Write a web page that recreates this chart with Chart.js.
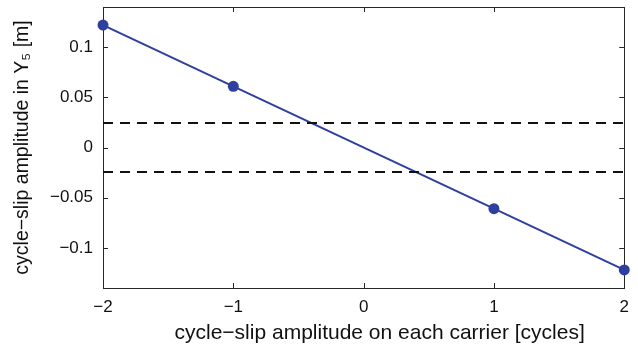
<!DOCTYPE html>
<html>
<head>
<meta charset="utf-8">
<script src="https://cdn.jsdelivr.net/npm/chart.js@4.4.1/dist/chart.umd.min.js"></script>
<style>
  html,body{margin:0;padding:0;background:#fff;}
  #wrap{width:638px;height:349px;}
</style>
</head>
<body>
<div id="wrap"><canvas id="c" width="638" height="349"></canvas></div>
<script>
// data
const cycles    = [-2, -1, 1, 2];
const amplitude = [0.122, 0.061, -0.061, -0.122];
const threshold = 0.0245;
const xTicks = [-2, -1, 0, 1, 2];
const yTicks = [-0.1, -0.05, 0, 0.05, 0.1];
const xLabel = 'cycle\u2212slip amplitude on each carrier [cycles]';
const yLabel = 'cycle\u2212slip amplitude in Y\u2085 [m]';

const blue = '#2E3F9E';
const axisCol = '#262626';
const font = "'Liberation Sans', Arial, sans-serif";

const minus = v => String(v).replace('-', '\u2212');

// MATLAB style box with ticks pointing in
const frame = {
  id: 'frame',
  beforeDatasetsDraw(chart) {
    const {ctx, chartArea: a, scales: {x, y}} = chart;
    const len = 5;
    ctx.save();
    ctx.strokeStyle = axisCol;
    ctx.lineWidth = 1;
    ctx.beginPath();
    xTicks.forEach(v => {
      const px = Math.round(x.getPixelForValue(v)) + 0.5;
      ctx.moveTo(px, a.bottom); ctx.lineTo(px, a.bottom - len);
      ctx.moveTo(px, a.top); ctx.lineTo(px, a.top + len);
    });
    yTicks.forEach(v => {
      const py = Math.round(y.getPixelForValue(v)) + 0.5;
      ctx.moveTo(a.left, py); ctx.lineTo(a.left + len, py);
      ctx.moveTo(a.right, py); ctx.lineTo(a.right - len, py);
    });
    ctx.stroke();
    ctx.strokeRect(Math.round(a.left) + 0.5, Math.round(a.top) + 0.5,
                   Math.round(a.right - a.left), Math.round(a.bottom - a.top));
    ctx.restore();
  },
  // x label sits a bit right of the axes centre in the original
  afterDraw(chart) {
    const {ctx, scales: {x}} = chart;
    ctx.save();
    ctx.font = '21px ' + font;
    ctx.fillStyle = '#111';
    ctx.textAlign = 'center';
    ctx.textBaseline = 'alphabetic';
    ctx.fillText(xLabel, (x.left + x.right) / 2 + 16, x.bottom - 10);
    ctx.restore();
  }
};

const hline = v => [{x: xTicks[0], y: v}, {x: xTicks[xTicks.length - 1], y: v}];

new Chart(document.getElementById('c'), {
  type: 'scatter',
  plugins: [frame],
  data: {
    datasets: [
      {
        data: hline(threshold),
        showLine: true, borderColor: '#111', borderWidth: 2,
        borderDash: [10, 7], pointRadius: 0, clip: false
      },
      {
        data: hline(-threshold),
        showLine: true, borderColor: '#111', borderWidth: 2,
        borderDash: [10, 7], pointRadius: 0, clip: false
      },
      {
        data: cycles.map((c, i) => ({x: c, y: amplitude[i]})),
        showLine: true, borderColor: blue, borderWidth: 2,
        pointRadius: 5.5, pointBackgroundColor: blue, pointBorderColor: blue,
        pointBorderWidth: 0, clip: false
      }
    ]
  },
  options: {
    responsive: false,
    animation: false,
    layout: {padding: {left: 0, top: 7, right: 12, bottom: 0}},
    plugins: {legend: {display: false}, tooltip: {enabled: false}},
    scales: {
      x: {
        type: 'linear', min: -2, max: 2,
        afterBuildTicks: s => { s.ticks = xTicks.map(v => ({value: v})); },
        afterFit: s => { s.height = 61; },
        grid: {display: false, drawTicks: false},
        border: {display: false},
        ticks: {color: '#111', padding: 9, font: {family: font, size: 17}, callback: minus},
        title: {display: false}
      },
      y: {
        type: 'linear', min: -0.14, max: 0.14,
        afterBuildTicks: s => { s.ticks = yTicks.map(v => ({value: v})); },
        afterFit: s => { s.width = 103; s.paddingTop = 0; s.paddingBottom = 0; },
        grid: {display: false, drawTicks: false},
        border: {display: false},
        ticks: {color: '#111', padding: 10, font: {family: font, size: 17}, callback: minus},
        title: {
          display: true, text: yLabel,
          color: '#111', font: {family: font, size: 19.5}, padding: {top: 11, bottom: 0}
        }
      }
    }
  }
});
</script>
</body>
</html>
